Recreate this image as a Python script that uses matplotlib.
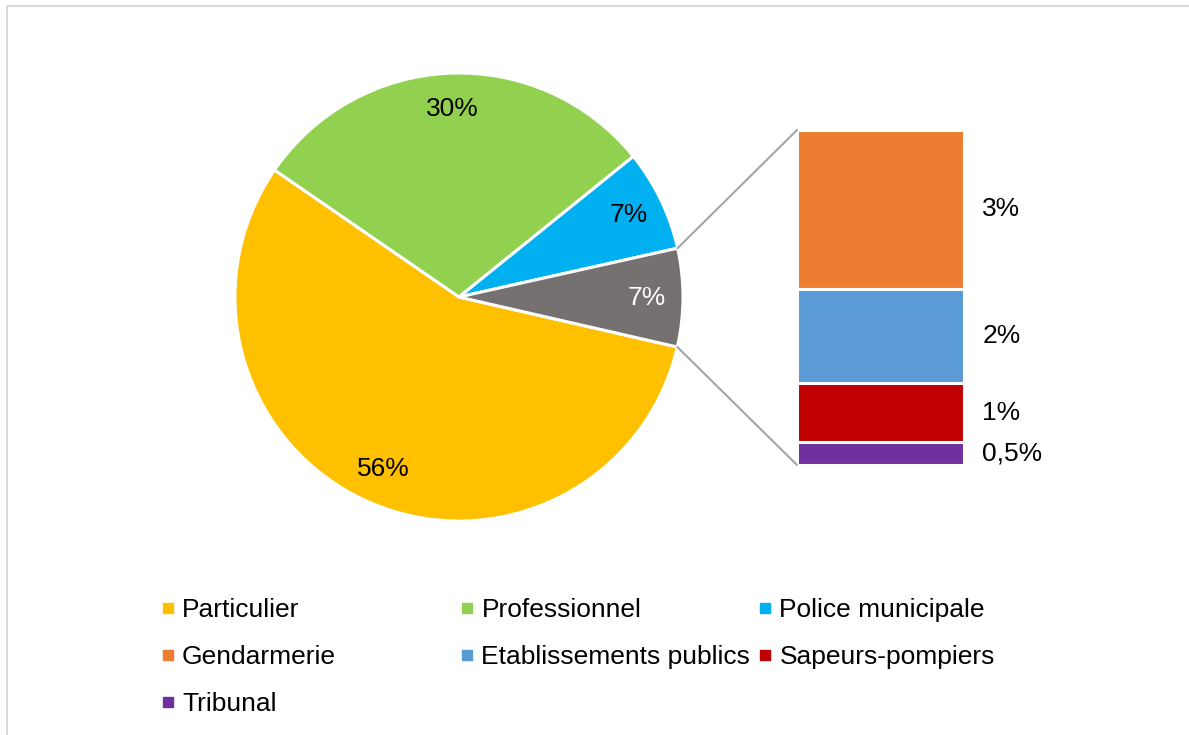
import numpy as np
import matplotlib.pyplot as plt
from matplotlib.lines import Line2D
from matplotlib.patches import ConnectionPatch, Rectangle

plt.rcParams["font.family"] = ["Liberation Sans", "DejaVu Sans"]
plt.rcParams["font.size"] = 19

# ----------------------------
# Data (percent of requests)
# ----------------------------
pie_names = ["Particulier", "Professionnel", "Police municipale"]
pie_values = [56.0, 29.6, 7.3]
pie_labels = ["56%", "30%", "7%"]
pie_colors = ["#FFC000", "#92D050", "#00B0F0"]

other_label = "7%"
other_color = "#767171"

bar_names = ["Gendarmerie", "Etablissements publics", "Sapeurs-pompiers", "Tribunal"]
bar_values = [3.35, 2.0, 1.25, 0.48]
bar_labels = ["3%", "2%", "1%", "0,5%"]
bar_colors = ["#ED7D31", "#5B9BD5", "#C00000", "#7030A0"]

W, H = 1189, 735
fig = plt.figure(figsize=(W / 100, H / 100), dpi=100)

# pie axis: data units == pixels
ax = fig.add_axes([0, 0, 1, 1])

center = (459, H - 297)
radius = 224
values = pie_values + [sum(bar_values)]
colors = pie_colors + [other_color]
labels = pie_labels + [other_label]

wedges, _ = ax.pie(
    values,
    colors=colors,
    center=center,
    radius=radius,
    startangle=-12.9,
    counterclock=False,
    wedgeprops=dict(edgecolor="white", linewidth=2.2),
    frame=True,
)
ax.set_xlim(0, W)
ax.set_ylim(0, H)
ax.set_aspect("equal")
ax.axis("off")

for w, lab, col in zip(wedges, labels, colors):
    mid = np.deg2rad((w.theta1 + w.theta2) / 2)
    r = 0.84 * radius
    tc = "white" if col == other_color else "black"
    ax.text(center[0] + r * np.cos(mid), center[1] + r * np.sin(mid), lab,
            ha="center", va="center", color=tc)

# ----------------------------
# Stacked bar (breakdown of "other")
# ----------------------------
bx0, bx1, by0, by1 = 797, 964, 130, 465
ax2 = fig.add_axes([bx0 / W, (H - by1) / H, (bx1 - bx0) / W, (by1 - by0) / H])
total = sum(bar_values)
bottoms = np.concatenate([[0], np.cumsum(bar_values[::-1])[:-1]])[::-1]
ax2.bar(0, bar_values, bottom=bottoms, width=1, color=bar_colors,
        edgecolor="white", linewidth=2.2)
ax2.set_xlim(-0.5, 0.5)
ax2.set_ylim(0, total)
ax2.axis("off")
for b, v, lab in zip(bottoms, bar_values, bar_labels):
    ax2.text(1.11, b + v / 2, lab, transform=ax2.get_yaxis_transform(),
             ha="left", va="center")

# connector lines from the gray wedge to the bar
gw = wedges[-1]
for ang, yb in [(gw.theta1, 0), (gw.theta2, total)]:
    a = np.deg2rad(ang)
    p = (center[0] + radius * np.cos(a), center[1] + radius * np.sin(a))
    con = ConnectionPatch(xyA=p, coordsA=ax.transData, xyB=(-0.5, yb),
                          coordsB=ax2.transData, color="#A5A5A5", linewidth=1.5)
    fig.add_artist(con)

# ----------------------------
# Legend (3 equal-width columns)
# ----------------------------
names = pie_names + bar_names
cols = pie_colors + bar_colors
col_x = [161.4, 460.9, 758.9]
for c in range(3):
    idx = list(range(c, len(names), 3))
    handles = [Line2D([], [], marker="s", linestyle="none", markersize=6.5,
                      markerfacecolor=cols[i], markeredgecolor=cols[i]) for i in idx]
    fig.legend(handles, [names[i] for i in idx], loc="upper left",
               bbox_to_anchor=(col_x[c] / W, (H - 598) / H),
               frameon=False, borderpad=0, borderaxespad=0,
               handlelength=0.5, handletextpad=0.28, labelspacing=0.88)

# light frame
fig.add_artist(Rectangle((7 / W, -0.1), 1.2, (H - 6) / H + 0.1,
                         transform=fig.transFigure, fill=False,
                         edgecolor="#D9D9D9", linewidth=1.5))

fig.savefig("out.png", dpi=100)
